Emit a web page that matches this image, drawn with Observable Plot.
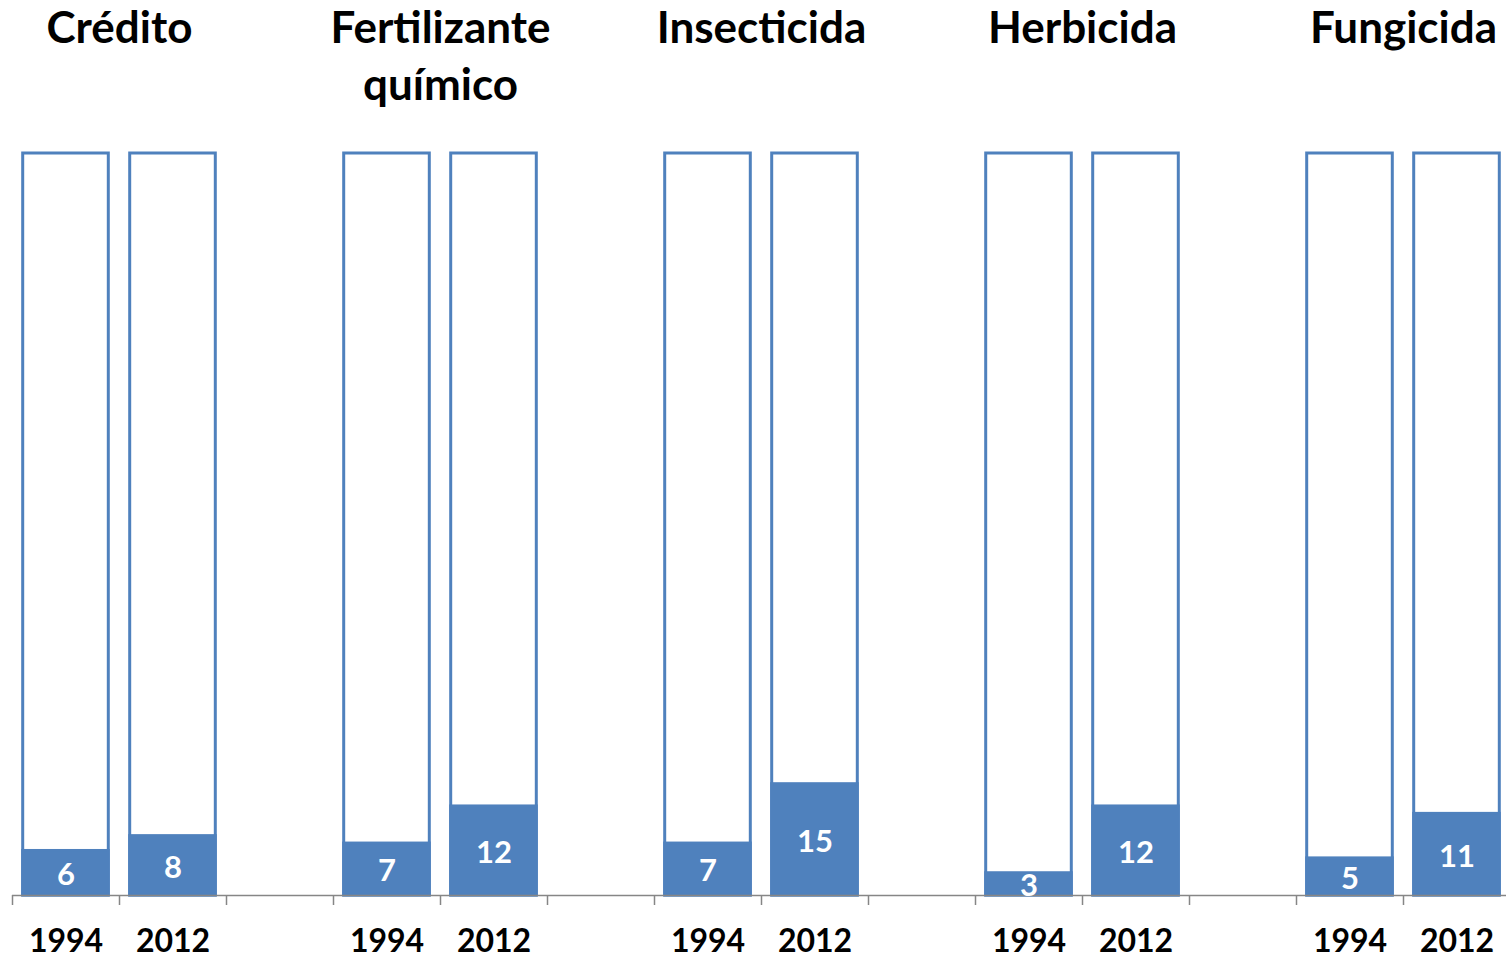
<!DOCTYPE html>
<html>
<head>
<meta charset="utf-8">
<script src="https://cdn.jsdelivr.net/npm/d3@7"></script>
<script src="https://cdn.jsdelivr.net/npm/@observablehq/plot@0.6"></script>
<style>
  html, body { margin: 0; padding: 0; background: #fff; }
  #chart svg { display: block; }
</style>
</head>
<body>
<div id="chart"></div>
<script>
const categories = ["Crédito", "Fertilizante\nquímico", "Insecticida", "Herbicida", "Fungicida"];
const years = ["1994", "2012"];
const values1994 = [6, 7, 7, 3, 5];
const values2012 = [8, 12, 15, 12, 11];
const maxValue = 100;

const blue = "#4F81BD";
const gray = "#868686";
const font = "Lato, 'Open Sans', sans-serif";

// Build table: each group takes 3 slots (two bars + a gap)
const rows = [];
categories.forEach((c, g) => {
  [values1994, values2012].forEach((vals, j) => {
    rows.push({category: c, year: years[j], value: vals[g], slot: 3 * g + j, full: maxValue});
  });
});
const groups = categories.map((c, g) => ({category: c, center: 3 * g + 1}));
const nSlots = categories.length * 3 - 1;
const boundaries = d3.range(nSlots + 1);

const chart = Plot.plot({
  width: 1506,
  height: 959,
  marginTop: 153,
  marginBottom: 64,
  marginLeft: 12,
  marginRight: 0,
  style: {fontFamily: font, background: "#fff"},
  x: {type: "linear", domain: [0, nSlots], range: [12, 1510], axis: null},
  y: {domain: [0, maxValue], axis: null},
  marks: [
    // outline (full height) bars
    Plot.rectY(rows, {x1: d => d.slot + 0.1, x2: d => d.slot + 0.9, y1: 0, y2: "full",
      fill: "white", stroke: blue, strokeWidth: 3}),
    // filled value bars
    Plot.rectY(rows, {x1: d => d.slot + 0.1, x2: d => d.slot + 0.9, y1: 0, y2: "value",
      fill: blue, stroke: blue, strokeWidth: 3}),
    // baseline
    Plot.ruleY([0], {stroke: gray, strokeWidth: 1.5}),
    // tick marks at slot boundaries
    Plot.axisX(boundaries, {tickSize: 10, tickFormat: () => "", label: null, stroke: gray, strokeWidth: 1.5}),
    // value labels
    Plot.text(rows, {x: d => d.slot + 0.5, y: d => d.value / 2, text: d => String(d.value),
      fill: "white", fontSize: 31, fontWeight: "bold", dy: 2}),
    // year labels
    Plot.text(rows, {x: d => d.slot + 0.5, y: 0, text: "year", fill: "black",
      fontSize: 32, fontWeight: "bold", dy: 46}),
    // category titles
    Plot.text(groups, {x: "center", text: "category", frameAnchor: "top", lineAnchor: "top",
      dy: -151, fill: "black", fontSize: 44, fontWeight: "bold", lineHeight: 1.3})
  ]
});
document.getElementById("chart").appendChild(chart);
</script>
</body>
</html>
